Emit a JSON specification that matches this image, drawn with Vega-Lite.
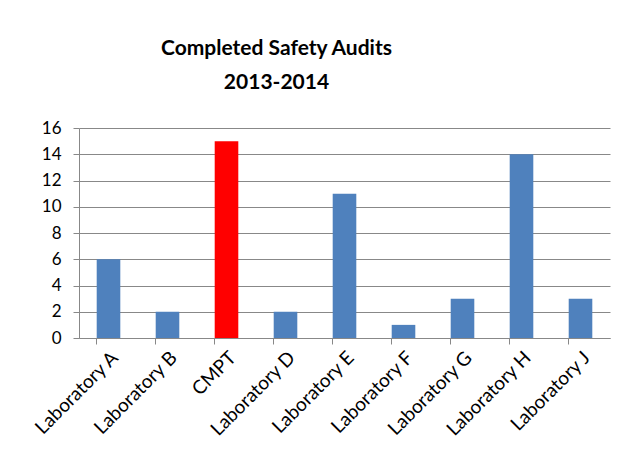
{
  "$schema": "https://vega.github.io/schema/vega-lite/v6.json",
  "autosize": "none",
  "width": 531,
  "height": 210,
  "padding": {"left": 79, "top": 128, "right": 14, "bottom": 120},
  "background": "white",
  "title": {
    "text": ["Completed Safety Audits", "2013-2014"],
    "font": "Lato",
    "fontSize": 21,
    "fontWeight": "bold",
    "color": "#000000",
    "lineHeight": 34,
    "anchor": "middle",
    "dx": -68,
    "offset": 26
  },
  "data": {
    "values": [
      {"lab": "Laboratory A", "audits": 6, "hi": "no"},
      {"lab": "Laboratory B", "audits": 2, "hi": "no"},
      {"lab": "CMPT", "audits": 15, "hi": "yes"},
      {"lab": "Laboratory D", "audits": 2, "hi": "no"},
      {"lab": "Laboratory E", "audits": 11, "hi": "no"},
      {"lab": "Laboratory F", "audits": 1, "hi": "no"},
      {"lab": "Laboratory G", "audits": 3, "hi": "no"},
      {"lab": "Laboratory H", "audits": 14, "hi": "no"},
      {"lab": "Laboratory J", "audits": 3, "hi": "no"}
    ]
  },
  "mark": {"type": "bar"},
  "encoding": {
    "x": {
      "field": "lab",
      "type": "nominal",
      "sort": null,
      "scale": {"paddingInner": 0.6, "paddingOuter": 0.3},
      "axis": {
        "title": null,
        "labelAngle": -45,
        "labelFont": "Lato",
        "labelFontSize": 19,
        "labelColor": "#000000",
        "labelPadding": 4,
        "bandPosition": 0,
        "ticks": true,
        "tickSize": 6,
        "tickColor": "#888888",
        "domainColor": "#888888",
        "grid": false
      }
    },
    "y": {
      "field": "audits",
      "type": "quantitative",
      "scale": {"domain": [0, 16]},
      "axis": {
        "title": null,
        "values": [0, 2, 4, 6, 8, 10, 12, 14, 16],
        "labelFont": "Lato",
        "labelFontSize": 17,
        "labelColor": "#000000",
        "labelPadding": 12,
        "tickSize": 6,
        "tickColor": "#888888",
        "domainColor": "#888888",
        "gridColor": "#888888",
        "gridOpacity": 1
      }
    },
    "color": {
      "field": "hi",
      "type": "nominal",
      "scale": {"domain": ["no", "yes"], "range": ["#4F81BD", "#FF0000"]},
      "legend": null
    }
  },
  "config": {"view": {"stroke": null}}
}
